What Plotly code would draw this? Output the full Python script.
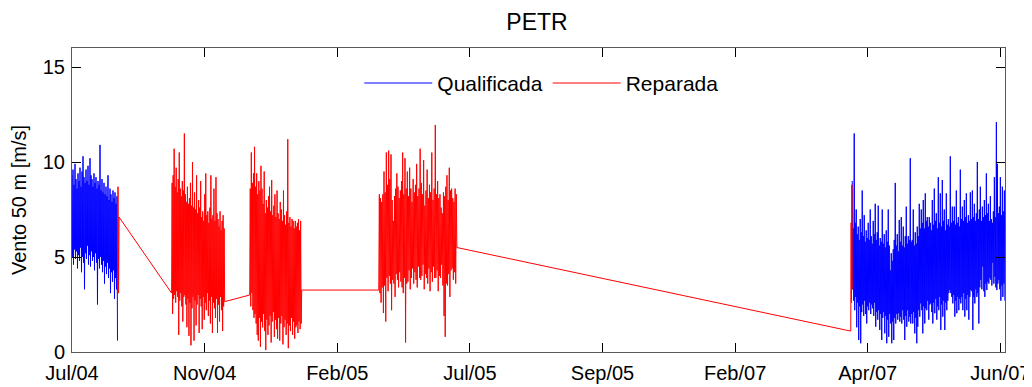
import numpy as np
import plotly.graph_objects as go

# ---- axis ticks (evenly spaced sample positions with date labels) ----
tick_pos = [0, 1, 2, 3, 4, 5, 6, 7]
tick_labels = ["Jul/04", "Nov/04", "Feb/05", "Jul/05", "Sep/05", "Feb/07", "Apr/07", "Jun/07"]
x_end = 7.035

# ---- segment spans (start, end) in axis units ----
seg1_span = (0.0, 0.343)
lead_span = (0.343, 0.355)
seg2_span = (0.751, 1.151)
seg3_span = (1.340, 1.732)
seg4_span = (2.313, 2.902)
tail_span = (5.872, 5.883)
seg5_span = (5.883, 7.034)

# ---- wind speed values [m/s] ----
# Qualificada (blue) block 1
seg1 = [9.3, 5.0, 9.6, 4.6, 8.8, 5.4, 9.9, 4.9, 9.1, 5.3, 8.6, 4.4, 9.4, 5.1, 9.0, 4.8, 9.7, 5.5, 8.7, 4.2,
        9.5, 5.0, 10.3, 4.7, 9.2, 3.3, 8.9, 5.2, 9.6, 4.9, 9.0, 5.6, 9.8, 4.6, 8.8, 5.1, 10.2, 4.5, 9.3, 5.3,
        9.1, 4.8, 8.7, 5.0, 9.4, 4.3, 8.9, 5.2, 9.2, 4.7, 8.6, 2.5, 9.0, 4.9, 8.8, 4.4, 10.9, 5.0, 8.5, 4.6,
        9.1, 4.2, 8.4, 4.8, 8.9, 3.6, 8.3, 4.5, 8.7, 4.1, 8.2, 4.7, 9.3, 3.9, 8.0, 4.4, 8.6, 3.1, 8.3, 4.2,
        7.9, 3.7, 8.5, 4.3, 8.1, 2.8, 8.4, 3.9, 7.8, 3.3, 8.2, 0.6]
# Reparada (red) pieces
lead = [4.2, 8.7, 3.1, 7.1]
seg2 = [3.1, 8.9, 2.0, 9.3, 2.8, 10.7, 3.0, 8.7, 2.6, 9.7, 3.2, 8.4, 2.9, 9.1, 0.9, 10.5, 2.7, 8.6, 3.1, 8.2,
        2.4, 9.0, 1.6, 8.5, 2.9, 11.5, 3.0, 8.3, 2.5, 7.9, 1.3, 8.7, 2.8, 7.8, 0.85, 8.1, 2.6, 8.9, 0.35, 7.7,
        2.3, 10.0, 2.9, 7.6, 0.6, 8.4, 2.7, 7.5, 1.4, 9.3, 2.5, 7.3, 3.0, 8.0, 1.0, 7.6, 2.8, 9.0, 2.4, 7.1,
        1.2, 7.4, 2.9, 6.9, 1.7, 8.3, 2.6, 9.4, 2.2, 7.2, 3.1, 7.4, 1.9, 6.8, 2.7, 7.6, 1.5, 9.3, 2.9, 7.0,
        1.0, 7.2, 2.6, 8.6, 2.3, 6.9, 1.8, 9.2, 2.8, 7.3, 1.0, 7.0, 2.5, 6.6, 1.6, 7.4, 2.9, 6.4, 2.2, 6.9,
        1.1, 7.2, 2.4, 6.5, 2.65]
seg3 = [3.0, 8.6, 2.4, 10.5, 3.1, 8.9, 2.2, 9.4, 1.8, 10.8, 2.0, 8.7, 1.5, 9.4, 0.9, 8.3, 0.6, 9.0, 1.8, 8.5,
        0.27, 9.8, 1.6, 8.6, 1.3, 7.8, 2.0, 9.5, 1.1, 7.3, 0.1, 8.0, 1.7, 7.6, 0.9, 8.2, 1.4, 8.7, 1.9, 7.4,
        0.5, 9.05, 1.6, 7.2, 2.1, 7.7, 0.8, 8.3, 1.7, 7.1, 1.2, 8.5, 0.7, 7.3, 1.8, 7.0, 0.6, 7.9, 1.5, 7.5,
        1.9, 6.9, 0.4, 8.5, 1.3, 7.2, 1.7, 6.7, 0.9, 7.4, 1.5, 11.2, 0.2, 6.8, 1.4, 7.1, 1.1, 6.6, 1.8, 7.0,
        0.9, 6.9, 1.6, 6.5, 0.7, 6.9, 1.3, 6.6, 1.4, 6.8, 1.0, 7.0, 1.6, 6.4, 1.2, 6.9, 1.5, 3.26]
seg4 = [3.26, 8.3, 3.1, 8.1, 2.6, 7.9, 3.4, 8.3, 2.05, 9.5, 3.5, 8.4, 1.6, 10.5, 3.9, 8.8, 3.2, 10.6, 4.0, 9.1,
        3.6, 10.4, 2.2, 8.0, 3.8, 6.9, 3.6, 8.2, 2.9, 8.6, 4.1, 9.4, 3.8, 8.7, 3.4, 8.1, 4.2, 8.5, 3.7, 9.0,
        3.4, 10.5, 3.1, 8.3, 3.9, 10.2, 0.5, 8.6, 3.6, 9.5, 3.7, 8.2, 4.3, 9.7, 3.3, 8.6, 3.9, 7.9, 4.4, 9.1,
        3.6, 8.4, 4.2, 8.8, 3.8, 9.9, 3.4, 8.2, 4.5, 8.6, 3.9, 10.7, 3.8, 8.9, 4.0, 8.3, 4.6, 10.1, 3.3, 7.7,
        4.1, 8.5, 3.9, 9.6, 3.6, 8.1, 4.4, 8.8, 3.2, 8.4, 4.2, 10.5, 3.7, 8.0, 4.5, 8.6, 3.9, 11.95, 3.9, 8.3,
        4.3, 9.0, 3.2, 8.1, 4.0, 8.3, 3.9, 7.6, 4.6, 7.3, 3.5, 8.4, 1.9, 8.2, 0.8, 8.7, 3.6, 9.3, 3.5, 8.0,
        4.1, 9.7, 2.9, 8.5, 4.3, 8.6, 4.4, 8.1, 3.8, 7.9, 4.2, 8.6, 3.6, 8.3, 5.5]
tail = [1.1, 6.8, 2.6, 8.8, 3.3]
# Qualificada (blue) block 2
seg5 = [9.0, 3.3, 6.5, 2.7, 11.5, 2.2, 6.8, 2.9, 7.5, 1.3, 6.2, 2.6, 6.6, 0.63, 5.9, 2.4, 7.0, 0.46, 6.3, 2.1,
        8.5, 2.5, 6.1, 1.9, 7.2, 2.7, 5.8, 2.0, 6.4, 1.5, 6.0, 2.4, 6.8, 2.2, 5.9, 2.6, 7.5, 2.0, 6.1, 2.5,
        5.7, 2.3, 6.9, 1.9, 6.2, 2.6, 7.8, 1.33, 5.9, 2.1, 6.3, 1.7, 7.7, 2.2, 5.6, 1.16, 6.0, 2.0, 5.8, 0.63,
        7.5, 1.8, 5.7, 2.1, 6.2, 0.98, 5.5, 1.9, 6.4, 0.46, 5.8, 1.7, 7.5, 0.8, 5.6, 2.0, 4.3, 1.5, 5.2, 0.46,
        4.8, 1.6, 5.4, 0.63, 5.9, 1.8, 8.9, 1.5, 5.6, 2.0, 6.2, 1.7, 5.3, 2.04, 6.95, 1.6, 5.8, 1.86, 7.1, 1.5,
        5.6, 2.2, 6.6, 1.7, 5.5, 0.63, 6.1, 1.9, 7.65, 1.33, 5.7, 2.2, 6.1, 1.6, 5.9, 1.86, 10.2, 1.5, 5.8, 2.0,
        5.9, 1.5, 7.5, 2.1, 5.6, 0.98, 6.3, 1.8, 5.7, 0.46, 6.6, 1.33, 6.1, 2.2, 7.8, 1.86, 6.5, 2.56, 7.5, 2.2,
        6.8, 0.98, 8.0, 2.4, 6.5, 1.5, 8.35, 2.3, 6.9, 2.2, 7.1, 2.7, 6.6, 1.7, 7.1, 2.5, 6.8, 2.56, 6.4, 2.1,
        8.0, 1.5, 6.7, 2.6, 8.6, 2.04, 6.9, 2.8, 7.3, 1.7, 6.5, 2.4, 9.2, 2.2, 6.8, 2.9, 8.35, 1.16, 6.6, 2.5,
        9.05, 1.86, 6.9, 2.7, 7.5, 1.16, 6.4, 2.6, 8.35, 2.2, 6.7, 2.7, 7.0, 3.1, 6.6, 3.26, 10.3, 3.1, 6.8, 2.9,
        7.65, 2.56, 6.9, 3.0, 7.65, 1.86, 6.7, 2.7, 8.5, 2.04, 6.8, 2.9, 7.1, 2.2, 6.6, 2.8, 9.6, 2.56, 7.0, 2.9,
        7.65, 2.2, 6.9, 3.1, 8.0, 1.86, 7.1, 2.8, 8.35, 2.2, 6.8, 3.0, 7.2, 1.7, 6.9, 2.9, 8.4, 3.26, 7.0, 3.2,
        8.5, 1.16, 7.1, 2.9, 7.8, 2.56, 6.9, 3.3, 7.3, 2.9, 10.0, 3.1, 7.0, 1.5, 7.5, 3.4, 8.7, 3.8, 6.9, 3.3,
        7.65, 4.5, 7.1, 3.2, 8.0, 2.9, 7.2, 3.6, 9.4, 3.26, 7.3, 3.7, 7.8, 3.6, 6.9, 3.9, 8.2, 3.8, 7.0, 3.5,
        6.8, 4.7, 7.4, 3.6, 9.2, 3.96, 7.1, 3.4, 12.1, 3.26, 9.9, 3.6, 7.3, 3.8, 7.65, 3.3, 9.2, 2.7, 7.2, 3.5,
        8.7, 2.9, 7.4, 3.6, 8.5, 2.7]


def xs(span, vals):
    return list(np.linspace(span[0], span[1], len(vals)))


blue_x = xs(seg1_span, seg1) + [None] + xs(seg5_span, seg5)
blue_y = seg1 + [None] + seg5

red_x = (xs(lead_span, lead) + xs(seg2_span, seg2) + xs(seg3_span, seg3)
         + xs(seg4_span, seg4) + xs(tail_span, tail))
red_y = lead + seg2 + seg3 + seg4 + tail

FONT = "Liberation Sans, Arial, Helvetica, sans-serif"

fig = go.Figure()
fig.add_trace(go.Scatter(x=blue_x, y=blue_y, mode="lines", name="Qualificada",
                         line=dict(color="#0000ff", width=1), connectgaps=False))
fig.add_trace(go.Scatter(x=red_x, y=red_y, mode="lines", name="Reparada",
                         line=dict(color="#ff0000", width=1)))

axis_common = dict(showgrid=False, zeroline=False, showline=True, linecolor="#5a5a5a",
                   linewidth=1, mirror="ticks", ticks="inside", ticklen=9,
                   tickcolor="#000000", tickwidth=1, automargin=False,
                   tickfont=dict(family=FONT, size=20, color="#000000"))

# page body keeps its default 8px margin, so the figure is sized/offset to fit the window
fig.update_layout(
    width=1024, height=379,
    margin=dict(l=64, r=27, t=40, b=35),
    paper_bgcolor="white", plot_bgcolor="white",
    font=dict(family=FONT, color="#000000"),
    title=dict(text="PETR", x=0.5166, xanchor="center", y=0.9626, yanchor="middle",
               xref="container", yref="container",
               font=dict(family=FONT, size=23, color="#000000")),
    xaxis=dict(range=[0, x_end], tickmode="array", tickvals=tick_pos, ticktext=tick_labels,
               ticklabelstandoff=3, **axis_common),
    yaxis=dict(range=[0, 16], tickmode="array", tickvals=[0, 5, 10, 15],
               ticklabelstandoff=2,
               title=dict(text="Vento 50 m [m/s]", font=dict(family=FONT, size=20, color="#000000"),
                          standoff=12),
               **axis_common),
    legend=dict(orientation="h", x=0.503, xanchor="center", y=0.8837, yanchor="middle",
                bgcolor="rgba(0,0,0,0)", font=dict(family=FONT, size=21, color="#000000"),
                itemwidth=68),
    showlegend=True,
    hovermode=False,
)

fig.write_html("out.html", config={"displayModeBar": False, "staticPlot": True})
